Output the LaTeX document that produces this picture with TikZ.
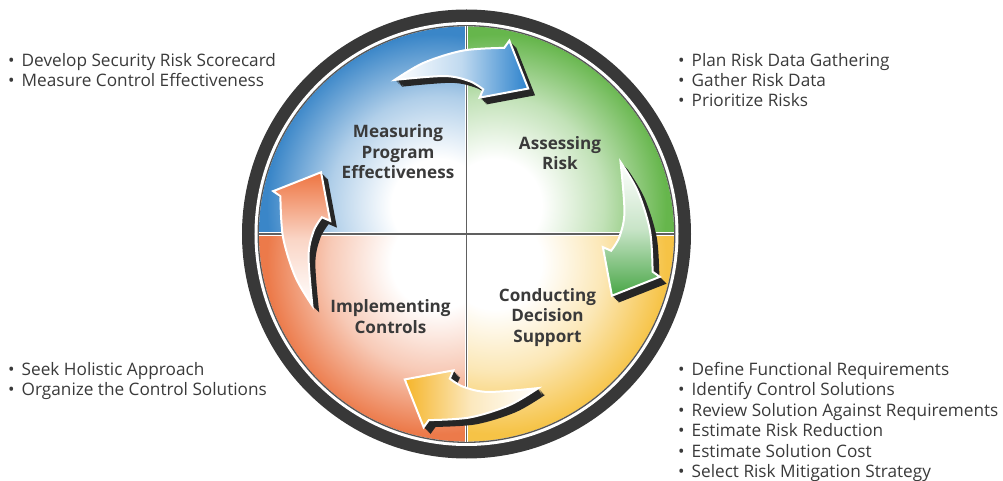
\documentclass[tikz,border=0pt]{standalone}
\usepackage{fontspec}
\setmainfont{Open Sans}
\definecolor{ringc}{HTML}{383838}
\definecolor{txtc}{HTML}{3A3A3A}
\definecolor{qblue}{HTML}{3A86C8}
\definecolor{qgreen}{HTML}{66B64C}
\definecolor{qyellow}{HTML}{F6C346}
\definecolor{qorange}{HTML}{EC7A4A}
\definecolor{ablue}{HTML}{2C82CC}
\definecolor{agreen}{HTML}{48A646}
\definecolor{ayellow}{HTML}{F5B52A}
\definecolor{aorange}{HTML}{EE7440}
\definecolor{shadc}{HTML}{262626}
\pgfdeclareradialshading{shblue}{\pgfpointorigin}{color(0bp)=(white); color(6bp)=(white); color(14bp)=(qblue!40!white); color(22bp)=(qblue); color(50bp)=(qblue)}
\pgfdeclareradialshading{shgreen}{\pgfpointorigin}{color(0bp)=(white); color(6bp)=(white); color(14bp)=(qgreen!40!white); color(22bp)=(qgreen); color(50bp)=(qgreen)}
\pgfdeclareradialshading{shyellow}{\pgfpointorigin}{color(0bp)=(white); color(6bp)=(white); color(14bp)=(qyellow!40!white); color(22bp)=(qyellow); color(50bp)=(qyellow)}
\pgfdeclareradialshading{shorange}{\pgfpointorigin}{color(0bp)=(white); color(6bp)=(white); color(14bp)=(qorange!40!white); color(22bp)=(qorange); color(50bp)=(qorange)}
\newcommand{\arrowpath}{plot[smooth, tension=0.55] coordinates {(25:170) (14:176.5) (1:183.5) (-11.45:189.9)} -- (-12.5:198) -- (-23:158) -- (-5.5:137) -- plot[smooth, tension=0.55] coordinates {(-6.6:145.6) (-1:153) (8:159.5) (25:170)} -- cycle}
\newcommand{\cyclearrow}[2]{%
  \foreach \k in {1,...,8} {\fill[shadc, shift={(0.85*\k,-0.85*\k)}, rotate=#1] \arrowpath;}
  \shadedraw[draw=white, line width=2, line join=miter, rotate=#1, top color=white, bottom color=#2, middle color=#2!30!white, shading angle=#1] \arrowpath;}
\newcommand{\quadfill}[2]{%
  \begin{scope}
    \clip (0,0) -- (#1:207.6) arc[start angle=#1, end angle=#1+90, radius=207.6] -- cycle;
    \shade[shading=#2] (#1+45:40) circle (195);
  \end{scope}}
\tikzset{
  lab/.style={text=txtc, align=center, font=\bfseries\fontsize{17.1}{20.3}\selectfont, inner sep=0pt},
  item/.style={text=txtc, anchor=base west, font=\fontsize{17.2}{20}\selectfont, inner sep=0pt}
}
\newcommand{\bul}{\makebox[13.5pt][l]{\textbullet}}
\begin{document}
\begin{tikzpicture}[x=1pt, y=1pt]
\useasboundingbox (-466.5,-247) rectangle (536.5,234);
% ring
\fill[ringc] (0,0) circle (224.5);
\fill[white] (0,0) circle (212);
\quadfill{90}{shblue}
\quadfill{0}{shgreen}
\quadfill{270}{shyellow}
\quadfill{180}{shorange}
\draw[ringc!85!white, line width=1.3] (0,0) circle (208.3);
% dividers
\draw[white, line width=3.6] (-207.6,0) -- (207.6,0);
\draw[white, line width=3.6] (0,-207.6) -- (0,207.6);
\draw[ringc!80!white, line width=1.5] (-207.6,0) -- (207.6,0);
\draw[ringc!80!white, line width=1.5] (0,-207.6) -- (0,207.6);
% arrows
\cyclearrow{90}{ablue}
\cyclearrow{0}{agreen}
\cyclearrow{270}{ayellow}
\cyclearrow{180}{aorange}
% labels
\node[lab] (mpe) at (-68.5,82.3) {Measuring\\Program\\Effectiveness};
\node[lab] (ar) at (93.5,81) {Assessing\\Risk};
\node[lab] (ic) at (-76,-82.7) {Implementing\\Controls};
\node[lab] (cds) at (81,-83.3) {Conducting\\Decision\\Support};
% lists
\node[item] (tl1) at (-458.5,167.3) {\bul Develop Security Risk Scorecard};
\node[item] (tl2) at (-458.5,147) {\bul Measure Control Effectiveness};
\node[item] (tr1) at (211.5,167.3) {\bul Plan Risk Data Gathering};
\node[item] (tr2) at (211.5,147) {\bul Gather Risk Data};
\node[item] (tr3) at (211.5,127.3) {\bul Prioritize Risks};
\node[item] (bl1) at (-458.5,-141) {\bul Seek Holistic Approach};
\node[item] (bl2) at (-458.5,-161.5) {\bul Organize the Control Solutions};
\node[item] (br1) at (211.5,-141) {\bul Define Functional Requirements};
\node[item] (br2) at (211.5,-161.5) {\bul Identify Control Solutions};
\node[item] (br3) at (211.5,-182) {\bul Review Solution Against Requirements};
\node[item] (br4) at (211.5,-202.5) {\bul Estimate Risk Reduction};
\node[item] (br5) at (211.5,-223) {\bul Estimate Solution Cost};
\node[item] (br6) at (211.5,-243.5) {\bul Select Risk Mitigation Strategy};
\end{tikzpicture}
\end{document}
